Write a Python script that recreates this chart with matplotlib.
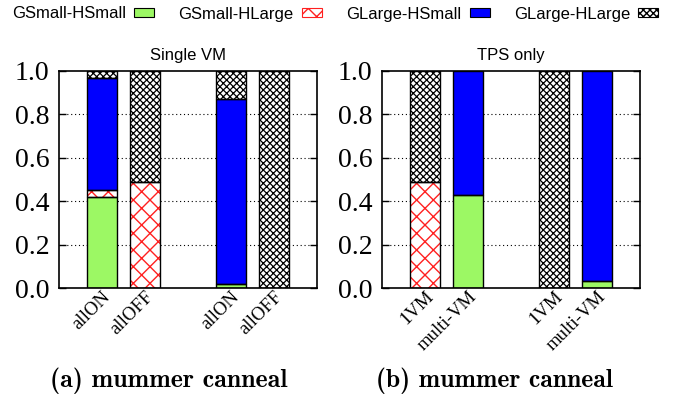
import matplotlib
matplotlib.use("Agg")
import matplotlib.pyplot as plt
import matplotlib.patches as mpatches
from matplotlib.transforms import ScaledTranslation
import numpy as np

# ---- data ----
series_names = ["GSmall-HSmall", "GSmall-HLarge", "GLarge-HSmall", "GLarge-HLarge"]
positions = [0, 1, 3, 4]

left_labels = ["allON", "allOFF", "allON", "allOFF"]
left_gs_hs = [0.42, 0.0, 0.02, 0.0]
left_gs_hl = [0.03, 0.49, 0.0, 0.0]
left_gl_hs = [0.52, 0.0, 0.85, 0.0]
left_gl_hl = [0.03, 0.51, 0.13, 1.0]

right_labels = ["1VM", "multi-VM", "1VM", "multi-VM"]
right_gs_hs = [0.0, 0.43, 0.0, 0.03]
right_gs_hl = [0.49, 0.0, 0.0, 0.0]
right_gl_hs = [0.0, 0.57, 0.0, 0.97]
right_gl_hl = [0.51, 0.0, 1.0, 0.0]

yticks = [0.0, 0.2, 0.4, 0.6, 0.8, 1.0]

# ---- styles ----
styles = [
    dict(fc="#9cf864", hc="black", hatch=None, hlw=1.0),
    dict(fc="white", hc="#ff2020", hatch="xx", hlw=1.0),
    dict(fc="#0000ff", hc="black", hatch=None, hlw=1.0),
    dict(fc="white", hc="black", hatch="xxxxx", hlw=0.9),
]

W, H = 675, 398
fig = plt.figure(figsize=(W / 100, H / 100), dpi=100)


def px_axes(x0, x1, y0, y1):
    return fig.add_axes([x0 / W, (H - y1) / H, (x1 - x0) / W, (y1 - y0) / H])


def draw(ax, labels, data):
    bottom = np.zeros(len(positions))
    for vals, st in zip(data, styles):
        vals = np.array(vals)
        with plt.rc_context({"hatch.linewidth": st["hlw"]}):
            ax.bar(positions, vals, 0.7, bottom=bottom, color=st["fc"],
                   edgecolor=st["hc"], hatch=st["hatch"], linewidth=0, zorder=2)
        mask = vals > 0
        ax.bar(np.array(positions)[mask], vals[mask], 0.7, bottom=bottom[mask],
               fill=False, edgecolor="black", linewidth=1.0, zorder=3)
        bottom = bottom + vals
    ax.set_xlim(-1, 5)
    ax.set_ylim(0, 1)
    ax.set_yticks(yticks)
    ax.set_yticklabels([f"{t:.1f}" for t in yticks], fontfamily="Liberation Serif", fontsize=20)
    ax.set_xticks(positions)
    ax.set_xticklabels(labels, rotation=45, ha="right", va="top", rotation_mode="anchor",
                       fontfamily="Liberation Serif", fontsize=13.5)
    off = ScaledTranslation(-0.06, -0.05, fig.dpi_scale_trans)
    for lab in ax.get_xticklabels():
        lab.set_transform(lab.get_transform() + off)
    ax.tick_params(axis="y", direction="in", length=5, width=1, right=True, pad=7)
    ax.tick_params(axis="x", length=0, pad=0)
    for yv in yticks[1:-1]:
        ax.axhline(yv, color="black", linestyle=(0, (1, 2.5)), linewidth=0.8, zorder=1)
    for s in ax.spines.values():
        s.set_linewidth(1.2)


axL = px_axes(59, 317, 71, 288)
draw(axL, left_labels, [left_gs_hs, left_gs_hl, left_gl_hs, left_gl_hl])
axR = px_axes(382, 640, 71, 288)
draw(axR, right_labels, [right_gs_hs, right_gs_hl, right_gl_hs, right_gl_hl])

# titles
axL.set_title("Single VM", fontfamily="Liberation Sans", fontsize=12, pad=8)
axR.set_title("TPS only", fontfamily="Liberation Sans", fontsize=12, pad=8)

# captions (size fitted to the reference's caption width)
renderer = fig.canvas.get_renderer()
for cx, txt in [(169, "(a) mummer canneal"), (494, "(b) mummer canneal")]:
    t = fig.text(cx / W, 1 - 381 / H, txt, ha="center", va="center",
                 fontfamily=["cmb10", "Liberation Serif"], fontsize=16)
    w = t.get_window_extent(renderer).width
    t.set_fontsize(16 * 237 / w)

# legend
handles = []
for st in styles:
    ec = st["hc"] if st["hatch"] else "black"
    with plt.rc_context({"hatch.linewidth": st["hlw"]}):
        handles.append(mpatches.Patch(facecolor=st["fc"], edgecolor=ec, hatch=st["hatch"], linewidth=0.8))
leg = fig.legend(handles, series_names, loc="center left", bbox_to_anchor=(12 / W, 1 - 14 / H),
                 ncol=4, frameon=False, markerfirst=False, prop={"family": "Liberation Sans", "size": 12},
                 handlelength=1.2, handleheight=0.42, handletextpad=0.5, columnspacing=1.45,
                 borderaxespad=0, borderpad=0)

fig.savefig("out.png", dpi=100)
